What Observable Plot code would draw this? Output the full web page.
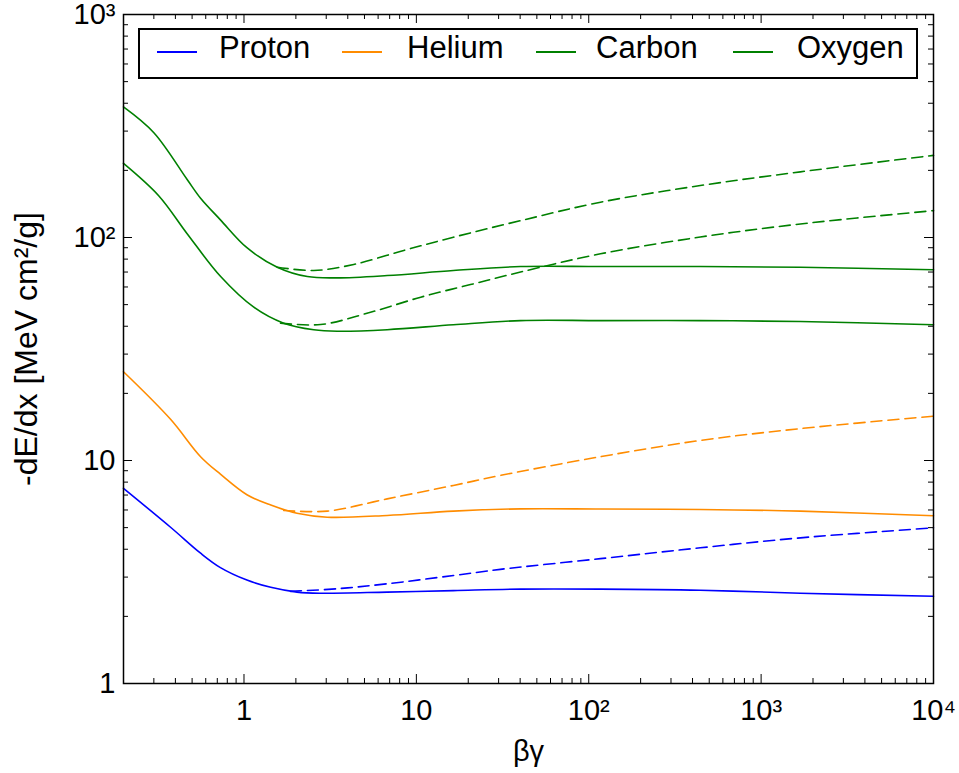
<!DOCTYPE html>
<html>
<head>
<meta charset="utf-8">
<script src="https://cdn.jsdelivr.net/npm/d3@7"></script>
<script src="https://cdn.jsdelivr.net/npm/@observablehq/plot@0.6"></script>
<style>
  body { margin: 0; background: #fff; font-family: "Liberation Sans", Arial, sans-serif; }
  #wrap { position: relative; width: 959px; height: 773px; }
  #legend { position: absolute; left: 138px; top: 28px; width: 780px; height: 51px;
            box-sizing: border-box; border: 2px solid #000; background: #fff; }
  .sw { position: absolute; top: 21px; width: 40px; height: 0; border-top: 2px solid; }
  .lt { position: absolute; top: 2px; font-size: 31px; line-height: 31px; color: #000; white-space: nowrap; }
</style>
</head>
<body>
<div id="wrap"></div>
<script>
// ---- data (βγ, -dE/dx) ----
const protonX = [0.2, 0.375, 0.56, 0.73, 1.04, 1.43, 2.03, 2.78, 6.77, 16.4, 40.2, 117, 444, 1690, 10000];
const protonY = [7.5, 5.02, 3.84, 3.31, 2.91, 2.70, 2.57, 2.54, 2.57, 2.61, 2.65, 2.65, 2.62, 2.54, 2.46];
const protonNoDensX = [1.86, 3.47, 6.77, 16.4, 30.7, 117, 444, 1690, 10000];
const protonNoDensY = [2.59, 2.66, 2.80, 3.05, 3.25, 3.63, 4.06, 4.50, 4.99];

const heliumX = [0.2, 0.375, 0.56, 0.73, 1.04, 1.43, 2.03, 3.04, 6.77, 16.4, 40.2, 117, 444, 1690, 10000];
const heliumY = [25.0, 15.3, 10.4, 8.68, 7.02, 6.31, 5.80, 5.57, 5.67, 5.93, 6.07, 6.06, 6.03, 5.93, 5.65];
const heliumNoDensX = [1.70, 3.04, 6.77, 16.4, 30.7, 117, 444, 1690, 10000];
const heliumNoDensY = [5.97, 5.93, 6.73, 7.73, 8.57, 10.4, 12.3, 13.9, 15.8];

const carbonX = [0.2, 0.32, 0.468, 0.73, 1.14, 1.70, 2.54, 3.47, 6.77, 16.4, 40.2, 117, 444, 1690, 10000];
const carbonY = [215, 154, 104, 67, 48.7, 41.3, 38.6, 38.0, 38.6, 40.6, 42.4, 42.4, 42.4, 42.0, 40.6];
const carbonNoDensX = [1.63, 2.78, 5.42, 10.6, 20.6, 40.2, 117, 444, 1690, 10000];
const carbonNoDensY = [41.3, 40.7, 46.2, 54.0, 61.5, 70.0, 84.5, 100.5, 115, 132];

const oxygenX = [0.2, 0.30, 0.468, 0.56, 0.73, 1.04, 1.56, 2.33, 3.47, 6.77, 16.4, 40.2, 117, 444, 1690, 10000];
const oxygenY = [385, 295, 182, 150, 120, 90, 73.6, 66.8, 65.9, 67.5, 71.1, 74.1, 74.1, 74.1, 73.5, 71.7];
const oxygenNoDensX = [1.56, 2.54, 4.33, 8.45, 16.4, 40.2, 117, 444, 1690, 10000];
const oxygenNoDensY = [73.6, 71.1, 75.7, 87.5, 100.3, 119, 144, 171, 197, 233.5];

const seriesNames = ["Proton", "Helium", "Carbon", "Oxygen"];
const seriesColors = ["#0000ff", "#ff8c00", "#008000", "#008000"];

const xTickValues = [1, 10, 100, 1000, 10000];
const xTickLabels = ["1", "10", "10²", "10³", "10⁴"];
const yTickValues = [1, 10, 100, 1000];
const yTickLabels = ["1", "10", "10²", "10³"];
const xLabel = "βγ";
const yLabel = "-dE/dx [MeV cm²/g]";

// ---- build tables ----
const toRows = (xs, ys) => xs.map((x, i) => ({x, y: ys[i]}));
const solid = [
  toRows(protonX, protonY), toRows(heliumX, heliumY),
  toRows(carbonX, carbonY), toRows(oxygenX, oxygenY)
];
const dashed = [
  toRows(protonNoDensX, protonNoDensY), toRows(heliumNoDensX, heliumNoDensY),
  toRows(carbonNoDensX, carbonNoDensY), toRows(oxygenNoDensX, oxygenNoDensY)
];

const W = 959, H = 773, mL = 123, mR = 26, mT = 14, mB = 90;
const plotH = H - mT - mB, plotW = W - mL - mR;
const xDomain = [0.2, 10000], yDomain = [1, 1000];

// minor tick positions (decade multiples inside the domain)
function minorTicks([lo, hi]) {
  const out = [];
  for (let e = -1; e <= 4; e++) for (let k = 2; k <= 9; k++) {
    const v = k * Math.pow(10, e);
    if (v >= lo * 0.999 && v <= hi * 1.001) out.push(v);
  }
  return out;
}
const xMinor = minorTicks(xDomain), yMinor = minorTicks(yDomain);
const majLen = 9, minLen = 5;

const xFmt = d => xTickLabels[xTickValues.indexOf(d)];
const yFmt = d => yTickLabels[yTickValues.indexOf(d)];

const marks = [];
solid.forEach((rows, i) => marks.push(Plot.line(rows, {
  x: "x", y: "y", stroke: seriesColors[i], strokeWidth: 1.6, curve: "catmull-rom"
})));
dashed.forEach((rows, i) => marks.push(Plot.line(rows, {
  x: "x", y: "y", stroke: seriesColors[i], strokeWidth: 1.6, strokeDasharray: "11,6", curve: "catmull-rom"
})));

// inward ticks on all four sides
[[xTickValues, majLen], [xMinor, minLen]].forEach(([vals, len]) => {
  marks.push(Plot.tickX(vals, {x: d => d, insetTop: plotH - len, stroke: "#000", strokeWidth: 1}));
  marks.push(Plot.tickX(vals, {x: d => d, insetBottom: plotH - len, stroke: "#000", strokeWidth: 1}));
});
[[yTickValues, majLen], [yMinor, minLen]].forEach(([vals, len]) => {
  marks.push(Plot.tickY(vals, {y: d => d, insetRight: plotW - len, stroke: "#000", strokeWidth: 1}));
  marks.push(Plot.tickY(vals, {y: d => d, insetLeft: plotW - len, stroke: "#000", strokeWidth: 1}));
});

marks.push(Plot.axisX(xTickValues, {anchor: "bottom", tickSize: 0, tickPadding: 16, tickFormat: xFmt, fontSize: 29, label: null}));
marks.push(Plot.axisY(yTickValues, {anchor: "left", tickSize: 0, tickPadding: 8, tickFormat: yFmt, fontSize: 29, label: null}));
marks.push(Plot.text([xLabel], {frameAnchor: "bottom", dy: 68, fontSize: 29, text: d => d, textAnchor: "middle", lineAnchor: "middle"}));
marks.push(Plot.text([yLabel], {frameAnchor: "left", dx: -97, rotate: -90, fontSize: 32, text: d => d, textAnchor: "middle", lineAnchor: "middle"}));
marks.push(Plot.frame({stroke: "#000", strokeWidth: 1.5}));

const chart = Plot.plot({
  width: W, height: H,
  marginLeft: mL, marginRight: mR, marginTop: mT, marginBottom: mB,
  x: {type: "log", domain: xDomain},
  y: {type: "log", domain: yDomain},
  style: {fontFamily: "'Liberation Sans', Arial, sans-serif", background: "#fff", color: "#000", overflow: "visible"},
  marks
});
const wrap = document.getElementById("wrap");
wrap.appendChild(chart);

// legend overlay
const legend = document.createElement("div");
legend.id = "legend";
const swLeft = [17, 202, 396, 593];
const txLeft = [79, 267, 456, 657];
seriesNames.forEach((name, i) => {
  const sw = document.createElement("div");
  sw.className = "sw";
  sw.style.left = swLeft[i] + "px";
  sw.style.borderTopColor = seriesColors[i];
  legend.appendChild(sw);
  const t = document.createElement("div");
  t.className = "lt";
  t.style.left = txLeft[i] + "px";
  t.textContent = name;
  legend.appendChild(t);
});
wrap.appendChild(legend);
</script>
</body>
</html>
